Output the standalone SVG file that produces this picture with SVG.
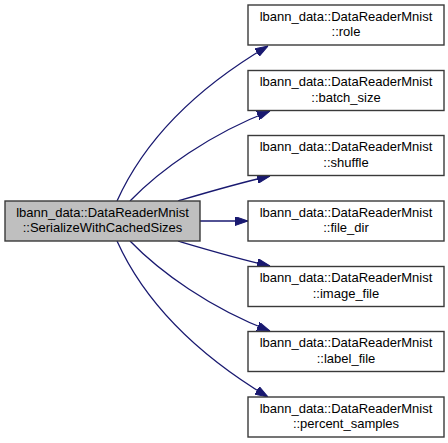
<svg xmlns="http://www.w3.org/2000/svg" width="448" height="443" viewBox="0 0 448 443">
<defs>
<style>
.box{fill:#ffffff;stroke:#3a3a3a;stroke-width:1.4}
.root{fill:#bfbfbf;stroke:#3a3a3a;stroke-width:1.4}
text{font-family:"Liberation Sans",Arial,sans-serif;font-size:13px;fill:#000;text-anchor:middle}
.edge{fill:none;stroke:#191970;stroke-width:1.3;marker-end:url(#ah)}
</style>
<marker id="ah" viewBox="0 0 13 9" refX="13" refY="4.5" markerWidth="13" markerHeight="9" markerUnits="userSpaceOnUse" orient="auto">
<path d="M0,0 L13,4.5 L0,9 Z" fill="#191970" stroke="#191970" stroke-width="1"/>
</marker>
</defs>
<rect width="448" height="443" fill="#ffffff"/>
<g id="edges">
<path class="edge" d="M117,201 C140,150 185,95 268,46"/>
<path class="edge" d="M130,201 C160,170 210,134 270,111"/>
<path class="edge" d="M178,201 C205,193 235,184 270,176"/>
<path class="edge" d="M200,221 L248,221"/>
<path class="edge" d="M178,241 C205,249 235,258 270,266"/>
<path class="edge" d="M130,241 C160,272 210,308 270,331"/>
<path class="edge" d="M117,241 C140,292 185,347 268,397"/>
</g>
<g id="root">
<rect class="root" x="5" y="201" width="195" height="40"/>
<text x="102.5" y="216.5">lbann_data::DataReaderMnist</text>
<text x="102.5" y="232">::SerializeWithCachedSizes</text>
</g>
<g id="role">
<rect class="box" x="248" y="5" width="196" height="40"/>
<text x="346" y="20.5">lbann_data::DataReaderMnist</text>
<text x="346" y="36">::role</text>
</g>
<g id="batch_size">
<rect class="box" x="248" y="70.5" width="196" height="40"/>
<text x="346" y="86">lbann_data::DataReaderMnist</text>
<text x="346" y="101.5">::batch_size</text>
</g>
<g id="shuffle">
<rect class="box" x="248" y="135.5" width="196" height="40"/>
<text x="346" y="151">lbann_data::DataReaderMnist</text>
<text x="346" y="166.5">::shuffle</text>
</g>
<g id="file_dir">
<rect class="box" x="248" y="201" width="196" height="40"/>
<text x="346" y="216.5">lbann_data::DataReaderMnist</text>
<text x="346" y="232">::file_dir</text>
</g>
<g id="image_file">
<rect class="box" x="248" y="266.5" width="196" height="40"/>
<text x="346" y="282">lbann_data::DataReaderMnist</text>
<text x="346" y="297.5">::image_file</text>
</g>
<g id="label_file">
<rect class="box" x="248" y="331.5" width="196" height="40"/>
<text x="346" y="347">lbann_data::DataReaderMnist</text>
<text x="346" y="362.5">::label_file</text>
</g>
<g id="percent_samples">
<rect class="box" x="248" y="397" width="196" height="40"/>
<text x="346" y="412.5">lbann_data::DataReaderMnist</text>
<text x="346" y="428">::percent_samples</text>
</g>
</svg>
